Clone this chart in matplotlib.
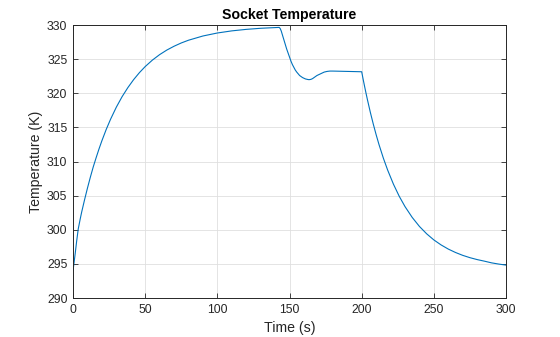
import matplotlib
matplotlib.use("Agg")
import matplotlib.pyplot as plt

# time (s) and socket temperature (K)
time_s = [
    0, 0.6, 1.5, 2.5, 3.6, 5, 6, 8, 10, 12, 14, 16, 18, 20, 23, 26, 30, 34,
    38, 42, 46, 50, 55, 60, 65, 70, 75, 80, 90, 100, 110, 120, 130, 142.8,
    143.5, 144.3, 145, 146, 147, 148, 149, 150, 151, 152, 153, 154, 155, 156,
    157, 158, 159, 160, 161, 162, 163, 164, 165, 166, 167, 168, 169, 170,
    171, 172, 173, 174, 175, 176, 178, 180, 190, 200,
    201, 202, 203, 204, 206, 208, 210, 212, 215, 218, 222, 226, 230, 235,
    240, 245, 250, 255, 260, 265, 270, 275, 280, 285, 290, 295, 300,
]
temp_k = [
    294.0, 295.0, 296.5, 298.3, 300.1, 301.6, 302.6, 304.4, 306.1, 307.7,
    309.2, 310.55, 311.84, 313.04, 314.7, 316.19, 317.96, 319.5, 320.83,
    322.0, 323.02, 323.91, 324.86, 325.66, 326.33, 326.89, 327.37, 327.77,
    328.39, 328.83, 329.14, 329.36, 329.52, 329.65,
    329.5, 329.1, 328.6, 327.9, 327.2, 326.5, 325.9, 325.3, 324.7, 324.2,
    323.8, 323.4, 323.1, 322.85, 322.6, 322.45, 322.3, 322.2, 322.1, 322.05,
    322.0, 322.0, 322.05, 322.15, 322.3, 322.45, 322.6, 322.7, 322.8, 322.9,
    323.0, 323.1, 323.15, 323.2, 323.25, 323.25, 323.2, 323.15,
    322.06, 321.02, 320.01, 319.04, 317.2, 315.51, 313.94, 312.48, 310.5,
    308.74, 306.68, 304.91, 303.4, 301.81, 300.49, 299.41, 298.51, 297.78,
    297.17, 296.67, 296.25, 295.91, 295.63, 295.4, 295.15, 294.97, 294.82,
]

x_ticks = [0, 50, 100, 150, 200, 250, 300]
y_ticks = [290, 295, 300, 305, 310, 315, 320, 325, 330]

plt.rcParams["font.family"] = ["Liberation Sans", "DejaVu Sans"]

fig = plt.figure(figsize=(5.6, 3.37), dpi=100)
ax = fig.add_axes([0.1304, 0.1157, 0.7732, 0.8101])

ax.plot(time_s, temp_k, color="#0072BD", linewidth=0.8)

ax.set_xlim(0, 300)
ax.set_ylim(290, 330)
ax.set_xticks(x_ticks)
ax.set_yticks(y_ticks)
ax.tick_params(direction="in", length=3.5, width=0.6, labelsize=8.8,
               top=True, right=True, colors="#262626", pad=4)
for spine in ax.spines.values():
    spine.set_linewidth(0.7)
    spine.set_color("#262626")

ax.grid(True, color="#dfdfdf", linewidth=0.6)
ax.set_axisbelow(True)

ax.set_xlabel("Time (s)", fontsize=10.2, color="#262626", labelpad=4)
ax.set_ylabel("Temperature (K)", fontsize=10.2, color="#262626", labelpad=3)
ax.set_title("Socket Temperature", fontsize=10.2, fontweight="bold",
             color="#000000", pad=4)

fig.savefig("out.png", dpi=100)
